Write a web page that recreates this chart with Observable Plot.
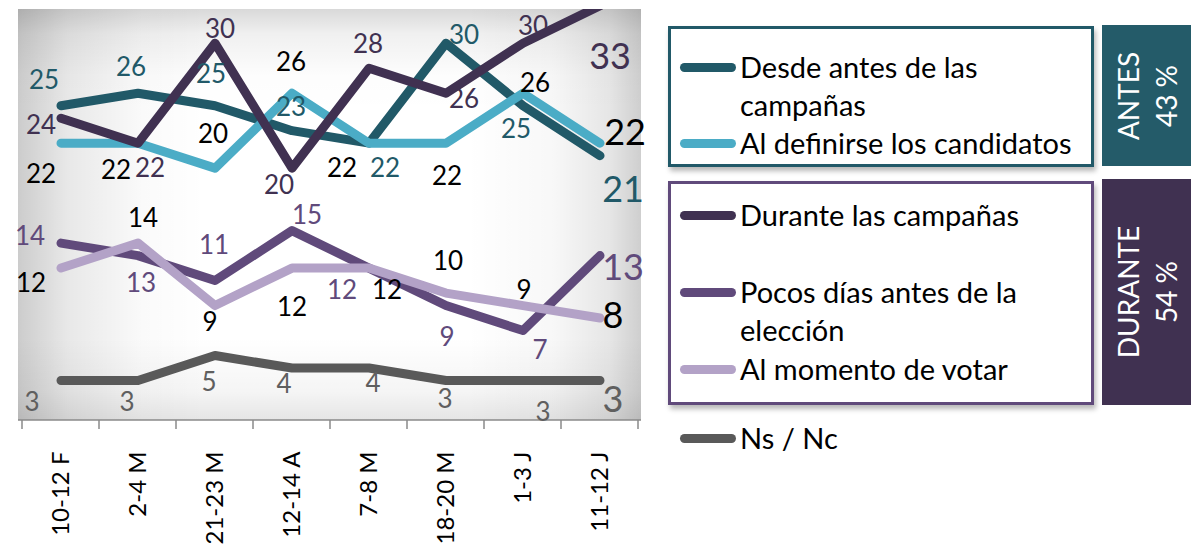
<!DOCTYPE html>
<html><head><meta charset="utf-8">
<script src="https://cdn.jsdelivr.net/npm/d3@7"></script>
<script src="https://cdn.jsdelivr.net/npm/@observablehq/plot@0.6"></script>
<style>
html,body{margin:0;padding:0;background:#fff;}
#wrap{position:relative;width:1191px;height:545px;overflow:hidden;font-family:Lato,"Open Sans",sans-serif;}
#chart{position:absolute;left:0;top:0;}
.box{position:absolute;box-sizing:border-box;background:#fff;box-shadow:2px 4px 5px rgba(0,0,0,0.28);}
.sw{position:absolute;left:680px;width:56px;height:9px;border-radius:5px;}
.lt{position:absolute;left:740px;font-size:29px;line-height:34px;color:#000;white-space:nowrap;}
.grp{position:absolute;left:1102px;width:89px;color:#fff;}
.grp div{position:absolute;left:50%;top:50%;transform:translate(-50%,-50%) rotate(-90deg);font-size:28px;line-height:38px;text-align:center;white-space:nowrap;}
</style></head>
<body>
<div id="wrap">
  <div id="chart"></div>
  <div class="box" style="left:668px;top:26px;width:426px;height:141px;border:3px solid #215968;"></div>
  <div class="box" style="left:668px;top:181px;width:426px;height:224px;border:3px solid #604A7B;"></div>
  <div id="legend"></div>
  <div class="grp" style="top:25px;height:141px;background:#245B69;"><div>ANTES<br>43 %</div></div>
  <div class="grp" style="top:179px;height:226px;background:#403151;"><div>DURANTE<br>54 %</div></div>
</div>
<script>
// ---- data ----
const periods = ["10-12 F","2-4 M","21-23 M","12-14 A","7-8 M","18-20 M","1-3 J","11-12 J"];
const desdeAntes      = [25,26,25,23,22,30,25,21];
const alDefinirse     = [22,22,20,26,22,22,26,22];
const duranteCampanas = [24,22,30,20,28,26,30,33];
const pocosDias       = [14,13,11,15,12,9,7,13];
const alMomento       = [12,14,9,12,12,10,9,8];
const nsNc            = [3,3,5,4,4,3,3,3];
const seriesNames = ["Desde antes de las campañas","Al definirse los candidatos","Durante las campañas","Pocos días antes de la elección","Al momento de votar","Ns / Nc"];

// ---- styles / layout (not data) ----
const lineColors  = ["#215968","#4BACC6","#403151","#604A7B","#B3A2C7","#595959"];
const labelColors = ["#215968","#000000","#403151","#604A7B","#000000","#5f5f5f"];
const labelOffsets = [
  [[-17,-25],[-7,-26],[-4,-31],[-1,-23],[16,26],[18,-8],[-7,24],[23,35]],
  [[-20,32],[-22,28],[-2,-33],[-1,-31],[-27,26],[1,34],[12,-10],[25,-10]],
  [[-20,7],[12,26],[5,-14],[-13,18],[-1,-24],[18,6],[10,-17],[10,52]],
  [[-31,-6],[3,28],[-1,-35],[15,-15],[-27,23],[1,32],[17,20],[23,13]],
  [[-30,16],[5,-24],[-5,17],[0,40],[18,23],[2,-31],[1,-15],[13,-2]],
  [[-29,22],[-11,22],[-6,27],[-8,17],[4,16],[-1,19],[20,32],[13,20]]
];
const legendLines = [
  {sw:0, y:67, text:["Desde antes de las","campañas"]},
  {sw:1, y:143, text:["Al definirse los candidatos"]},
  {sw:2, y:215, text:["Durante las campañas"]},
  {sw:3, y:292, text:["Pocos días antes de la","elección"]},
  {sw:4, y:369, text:["Al momento de votar"]},
  {sw:5, y:438, text:["Ns / Nc"]}
];

const allValues = [desdeAntes, alDefinirse, duranteCampanas, pocosDias, alMomento, nsNc];
const seriesRows = allValues.map((vals, s) => periods.map((p, i) => ({series: seriesNames[s], period: p, value: vals[i]})));

const FONT = "Lato, 'Open Sans', sans-serif";

function background(index, scales, values, dims) {
  const {width, height, marginLeft, marginRight, marginTop, marginBottom} = dims;
  const g = d3.create("svg:g");
  const defs = g.append("defs");
  const gh = defs.append("linearGradient").attr("id","bgH").attr("x1",0).attr("x2",1).attr("y1",0).attr("y2",0);
  [[0,0.2],[0.08,0.09],[0.2,0.02],[0.3,0],[0.72,0],[0.86,0.03],[0.95,0.1],[1,0.19]].forEach(([o,a]) =>
    gh.append("stop").attr("offset",o).attr("stop-color","#000").attr("stop-opacity",a));
  const gv = defs.append("linearGradient").attr("id","bgV").attr("x1",0).attr("x2",0).attr("y1",0).attr("y2",1);
  [[0,0.15],[0.06,0.06],[0.16,0.01],[0.25,0],[0.8,0],[0.93,0.04],[1,0.1]].forEach(([o,a]) =>
    gv.append("stop").attr("offset",o).attr("stop-color","#000").attr("stop-opacity",a));
  const x = marginLeft, y = marginTop, w = width - marginLeft - marginRight, h = height - marginTop - marginBottom;
  g.append("rect").attr("x",x).attr("y",y).attr("width",w).attr("height",h).attr("fill","#fff");
  g.append("rect").attr("x",x).attr("y",y).attr("width",w).attr("height",h).attr("fill","url(#bgH)");
  g.append("rect").attr("x",x).attr("y",y).attr("width",w).attr("height",h).attr("fill","url(#bgV)");
  return g.node();
}

function axisTicks(index, scales, values, dims) {
  const {width, height, marginLeft, marginRight, marginBottom} = dims;
  const x = scales.x;
  const bw = x.bandwidth ? x.bandwidth() : (width - marginLeft - marginRight) / periods.length;
  const y0 = height - marginBottom;
  const g = d3.create("svg:g").attr("stroke","#8a8a8a").attr("stroke-width",1.5);
  g.append("line").attr("x1",marginLeft).attr("x2",width - marginRight).attr("y1",y0).attr("y2",y0);
  const bounds = periods.map(p => x(p)).concat([x(periods[periods.length-1]) + bw]);
  bounds.forEach(b => g.append("line").attr("x1",b).attr("x2",b).attr("y1",y0).attr("y2",y0+9));
  return g.node();
}

const lineMarks = seriesRows.map((rows, s) => Plot.line(rows, {
  x: "period", y: "value", stroke: lineColors[s], strokeWidth: 9,
  strokeLinecap: "round", strokeLinejoin: "round", clip: true
}));

const labelMarks = [];
seriesRows.forEach((rows, s) => {
  rows.forEach((r, i) => {
    labelMarks.push(Plot.text([r], {
      x: "period", y: "value", text: d => String(d.value),
      dx: labelOffsets[s][i][0], dy: labelOffsets[s][i][1],
      fill: labelColors[s], fontSize: i === rows.length - 1 ? 36 : 26,
      fontFamily: FONT
    }));
  });
});

const chart = Plot.plot({
  width: 1191, height: 545,
  marginLeft: 18, marginRight: 550, marginTop: 9, marginBottom: 125,
  x: {type: "band", domain: periods, padding: 0, axis: null},
  y: {domain: [-0.2, 32.7], axis: null},
  style: {fontFamily: FONT, background: "transparent", overflow: "visible"},
  marks: [
    background,
    axisTicks,
    Plot.axisX({tickRotate: -90, tickSize: 0, tickPadding: 31, fontSize: 24, fill: "#000", label: null, fontFamily: FONT}),
    ...lineMarks,
    ...labelMarks
  ]
});
document.getElementById("chart").appendChild(chart);

// legend
const leg = document.getElementById("legend");
legendLines.forEach(l => {
  const sw = document.createElement("div");
  sw.className = "sw";
  sw.style.top = (l.y - 4.5) + "px";
  sw.style.background = lineColors[l.sw];
  leg.appendChild(sw);
  l.text.forEach((t, k) => {
    const d = document.createElement("div");
    d.className = "lt";
    d.textContent = t;
    d.style.top = (l.y - 17 + k * 38) + "px";
    leg.appendChild(d);
  });
});
</script>
</body></html>
